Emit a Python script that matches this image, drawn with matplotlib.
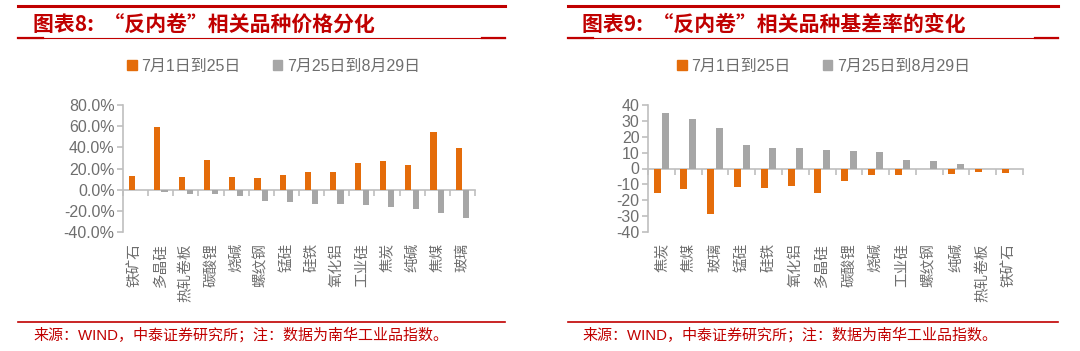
import matplotlib.pyplot as plt
from matplotlib.lines import Line2D
from matplotlib.patches import Patch
from matplotlib.ticker import FuncFormatter, MultipleLocator

plt.rcParams['font.family'] = ['Liberation Sans', 'Noto Sans CJK SC', 'DejaVu Sans']

# 图表8 数据（价格涨跌幅，%）
cats8 = ['铁矿石', '多晶硅', '热轧卷板', '碳酸锂', '烧碱', '螺纹钢', '锰硅',
         '硅铁', '氧化铝', '工业硅', '焦炭', '纯碱', '焦煤', '玻璃']
p1_8 = [13.3, 59.5, 12.0, 28.3, 12.0, 11.3, 13.9, 17.0, 16.5, 25.2, 27.1, 23.6, 54.4, 38.9]
p2_8 = [0.0, -1.9, -4.3, -4.3, -5.9, -10.3, -11.6, -13.2, -13.3, -14.2, -16.4, -18.0, -21.7, -26.9]

# 图表9 数据（基差率变化）
cats9 = ['焦炭', '焦煤', '玻璃', '锰硅', '硅铁', '氧化铝', '多晶硅', '碳酸锂',
         '烧碱', '工业硅', '螺纹钢', '纯碱', '热轧卷板', '铁矿石']
p1_9 = [-15.2, -12.6, -28.8, -11.4, -12.4, -11.2, -15.4, -7.8, -3.8, -4.0, 0.0, -3.6, -2.5, -2.7]
p2_9 = [35.2, 30.9, 25.7, 14.7, 12.8, 12.8, 11.6, 10.9, 10.3, 5.3, 4.8, 2.7, 0.0, 0.0]

legend_labels = ['7月1日到25日', '7月25日到8月29日']
ORANGE = '#E46C0A'
GREY = '#A6A6A6'
RED = '#C00000'
AXC = '#BFBFBF'
TXT = '#6E6E6E'

W, H = 1080, 351
fig = plt.figure(figsize=(W / 100, H / 100), dpi=100)


def fx(px):
    return px / W


def fy(py):
    return 1 - py / H


def panel(rect, cats, s1, s2, ylim, step, fmt, bw, off):
    ax = fig.add_axes(rect)
    x = list(range(len(cats)))
    ax.bar([i - off for i in x], s1, width=bw, color=ORANGE, zorder=3)
    ax.bar([i + off for i in x], s2, width=bw, color=GREY, zorder=3)
    ax.set_xlim(-0.5, len(cats) - 0.5)
    ax.set_ylim(*ylim)
    ax.yaxis.set_major_locator(MultipleLocator(step))
    ax.yaxis.set_major_formatter(FuncFormatter(fmt))
    for s in ['top', 'right', 'bottom']:
        ax.spines[s].set_visible(False)
    ax.spines['left'].set_color(AXC)
    ax.spines['left'].set_linewidth(1.2)
    ax.tick_params(axis='y', colors=AXC, labelcolor=TXT, labelsize=11.5,
                   length=4, width=1.2, direction='out', pad=2)
    ax.set_xticks(x)
    ax.set_xticklabels(cats, rotation=90, va='top', ha='center')
    ax.tick_params(axis='x', length=0, labelcolor=TXT, labelsize=10.5, pad=8)
    # 零轴及分类分隔刻度（向下）
    zero = (0 - ylim[0]) / (ylim[1] - ylim[0])
    sec = ax.secondary_xaxis(zero)
    sec.set_xticks([i + 0.5 for i in x[:-1]] + [-0.5, len(cats) - 0.5])
    sec.set_xticklabels([])
    sec.xaxis.set_ticks_position('bottom')
    sec.spines['top'].set_visible(False)
    sec.spines['bottom'].set_visible(True)
    sec.spines['bottom'].set_color(AXC)
    sec.spines['bottom'].set_linewidth(1.2)
    sec.tick_params(axis='x', which='both', colors=AXC, length=4, width=1.2,
                    direction='out', bottom=True, top=False)
    return ax


panel([fx(123), fy(232), fx(475) - fx(123), fy(105) - fy(232)],
      cats8, p1_8, p2_8, (-40, 80), 20, lambda v, p: f'{v:.1f}%', 0.24, 0.15)
panel([fx(648), fy(232), fx(1023) - fx(648), fy(105) - fy(232)],
      cats9, p1_9, p2_9, (-40, 40), 10, lambda v, p: f'{v:.0f}', 0.26, 0.16)

handles = [Patch(color=ORANGE), Patch(color=GREY)]
for lx in (127, 677):
    fig.legend(handles, legend_labels, loc='center left',
               bbox_to_anchor=(fx(lx), fy(66)), ncol=2, frameon=False,
               handlelength=0.6, handleheight=0.6, handletextpad=0.3,
               columnspacing=2.0, prop={'size': 11.5}, labelcolor=TXT,
               borderaxespad=0, borderpad=0)

# 标题与框线
titles = [(18, 505, 33, '图表8:  “反内卷”相关品种价格分化'),
          (568, 1058, 582, '图表9:  “反内卷”相关品种基差率的变化')]
footer = '来源：WIND，中泰证券研究所；注：数据为南华工业品指数。'
for x0, x1, tx, t in titles:
    fig.add_artist(Line2D([fx(x0), fx(x1)], [fy(6), fy(6)], color=RED, lw=2.2))
    fig.add_artist(Line2D([fx(x0), fx(x1)], [fy(37.5), fy(37.5)], color=RED, lw=0.8))
    fig.add_artist(Line2D([fx(x0), fx(x0 + 25)], [fy(37.5), fy(37.5)], color=RED, lw=1.6))
    fig.add_artist(Line2D([fx(x1 - 23), fx(x1)], [fy(37.5), fy(37.5)], color=RED, lw=1.6))
    fig.add_artist(Line2D([fx(x0), fx(x1)], [fy(322), fy(322)], color=RED, lw=1.2))
    fig.text(fx(tx), fy(24.5), t, color=RED, fontsize=15, fontweight='bold',
             family=['Noto Sans CJK SC'], va='center', ha='left')
    fig.text(fx(tx), fy(334.5), footer, color=RED, fontsize=10.8,
             family=['Liberation Sans', 'Noto Sans CJK SC'], va='center', ha='left')

fig.savefig('out.png', dpi=100, facecolor='white')
